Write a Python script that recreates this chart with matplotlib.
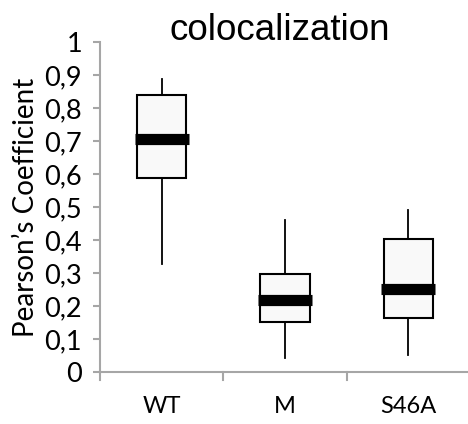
import matplotlib

matplotlib.use("Agg")
import matplotlib.pyplot as plt

# box-plot statistics
groups = ["WT", "M", "S46A"]
whisker_low = [0.328, 0.042, 0.051]
q1 = [0.589, 0.152, 0.164]
median = [0.705, 0.217, 0.253]
q3 = [0.838, 0.298, 0.403]
whisker_high = [0.889, 0.460, 0.492]
y_ticks = [0, 0.1, 0.2, 0.3, 0.4, 0.5, 0.6, 0.7, 0.8, 0.9, 1]

plt.rcParams["font.family"] = ["Lato", "DejaVu Sans"]

fig = plt.figure(figsize=(4.68, 4.24), dpi=100)
ax = fig.add_axes([100 / 468, 52 / 424, 368 / 468, 330 / 424])

stats = [
    {"label": g, "whislo": lo, "q1": a, "med": m, "q3": b, "whishi": hi, "fliers": []}
    for g, lo, a, m, b, hi in zip(groups, whisker_low, q1, median, q3, whisker_high)
]
positions = list(range(1, len(groups) + 1))
ax.bxp(
    stats,
    positions=positions,
    widths=0.4,
    showcaps=False,
    showfliers=False,
    patch_artist=True,
    boxprops=dict(facecolor="#f9f9f9", edgecolor="black", linewidth=1.5),
    whiskerprops=dict(color="black", linewidth=1.3),
    medianprops=dict(color="black", linewidth=8, solid_capstyle="butt"),
)
# median bars are a touch wider than the boxes
ax.hlines(median, [p - 0.22 for p in positions], [p + 0.22 for p in positions],
          color="black", linewidth=8, zorder=5)

ax.set_xlim(0.5, 0.5 + 368 / 123.3)
ax.set_ylim(0, 1)
ax.set_yticks(y_ticks)
ax.set_yticklabels([f"{t:g}".replace(".", ",") for t in y_ticks], fontsize=19.5)
ax.set_xticks(positions)
ax.set_xticklabels(groups, fontsize=17)
ax.tick_params(axis="x", length=0, pad=17)
# category separators on the x axis
for b in [0.5, 1.5, 2.5]:
    ax.plot([b, b], [0, -0.024], color="#a6a6a6", linewidth=1.5, clip_on=False)
ax.tick_params(axis="y", length=5, width=1.5, color="#a6a6a6", pad=8)

for side in ["top", "right"]:
    ax.spines[side].set_visible(False)
for side in ["left", "bottom"]:
    ax.spines[side].set_color("#a6a6a6")
    ax.spines[side].set_linewidth(1.5)

ax.set_ylabel("Pearson\u2019s Coefficient", fontsize=20, labelpad=4)
fig.text(280 / 468, 1 - 30 / 424, "colocalization", ha="center", va="center",
         fontsize=26.5, family=["Liberation Sans", "DejaVu Sans"])

fig.savefig("out.png", dpi=100)
